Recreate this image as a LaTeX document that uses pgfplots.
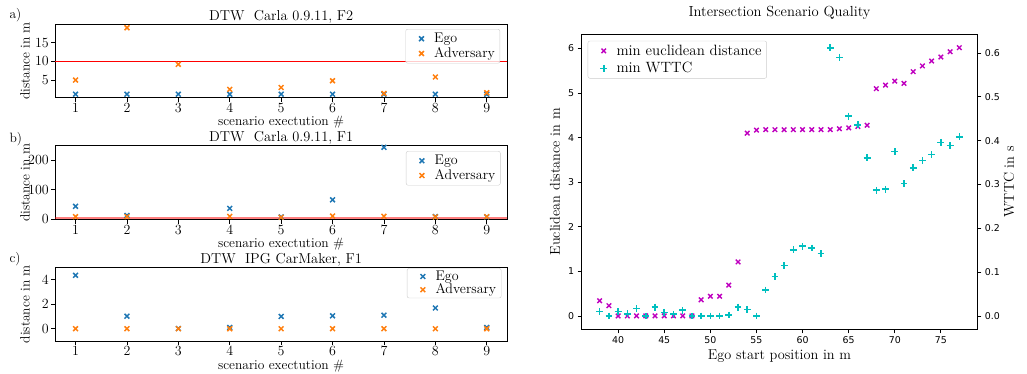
\documentclass[border=0pt]{standalone}
\usepackage{fontspec}
\usepackage{pgfplots}
\pgfplotsset{compat=1.18}
\newfontfamily\dejavu{DejaVu Sans}

\definecolor{tabblue}{HTML}{1F77B4}
\definecolor{taborange}{HTML}{FF7F0E}
\definecolor{mplm}{rgb}{0.75,0,0.75}
\definecolor{mplc}{rgb}{0,0.75,0.75}

\pgfplotsset{
  every axis title shift=0pt,
  frame/.style={
    scale only axis,
    clip mode=individual,
    axis line style={line width=0.9pt, black},
    tick align=outside, xtick pos=lower, ytick pos=left,
    major tick length=4pt,
    every tick/.style={black, line width=0.8pt},
    legend cell align=left,
    legend image code/.code={%
      \path (0pt,0pt) (22pt,0pt);
      \draw[##1] plot coordinates {(12pt,0pt)};},
  },
  mplegend/.style={
    draw=black!20, rounded corners=2pt, fill=white, fill opacity=0.8, text opacity=1,
    inner xsep=3pt, inner ysep=2pt, nodes={inner sep=2pt}, row sep=-0.5pt},
  dtw/.style={
    frame,
    width=452.3pt, height=73.4pt,
    xmin=0.6, xmax=9.4, xtick={1,...,9},
    /pgf/number format/assume math mode=true,
    tick label style={font=\fontsize{14}{16}\selectfont},
    xticklabel style={inner ysep=1pt},
    yticklabel style={inner xsep=2pt},
    xlabel={scenario exectution \#},
    ylabel={distance in m},
    label style={font=\fontsize{13.5}{16}\selectfont},
    xlabel style={at={(axis description cs:0.5,0)}, anchor=base, yshift=-28pt},
    ylabel style={at={(axis description cs:-0.0663,0.5)}, anchor=center},
    title style={font=\fontsize{14.4}{16}\selectfont, at={(axis description cs:0.5,1)}, anchor=base, yshift=4pt},
    legend style={mplegend, font=\fontsize{14}{15}\selectfont, anchor=north east},
  },
  ego/.style={only marks, mark=x, mark size=3.4pt, line width=1.5pt, color=tabblue},
  adv/.style={only marks, mark=x, mark size=3.4pt, line width=1.5pt, color=taborange},
  wttcmark/.style={only marks, mark=+, mark size=3.4pt, line width=1.6pt, color=mplc},
}

% DTW distances per scenario execution: run, ego, adversary
\pgfplotstableread{
run ego adv
1 1.2 5.0
2 1.2 19.0
3 1.2 9.2
4 1.2 2.5
5 1.2 3.0
6 1.2 4.8
7 1.2 1.4
8 1.2 5.8
9 1.2 1.6
}\carlaFtwo
\pgfplotstableread{
run ego adv
1 44 9
2 13 9
4 37 10
5 8 7
6 66 11
7 244 10
8 9 8
9 8 9
}\carlaFone
\pgfplotstableread{
run ego adv
1 4.35 0
2 1.02 0
3 0.02 0
4 0.10 0
5 1.00 0
6 1.05 0
7 1.10 0
8 1.69 0
9 0.10 0
}\ipgFone

% Intersection scenario: ego start position, min euclidean distance, min WTTC
\pgfplotstableread{
pos dist wttc
38 0.34 0.010
39 0.23 0.000
40 0.00 0.010
41 0.00 0.005
42 0.00 0.017
43 0.00 0.000
44 0.00 0.020
45 0.00 0.008
46 0.00 0.004
47 0.00 0.013
48 0.00 0.000
49 0.36 0.000
50 0.44 0.000
51 0.44 0.000
52 0.69 0.002
53 1.21 0.020
54 4.10 0.015
55 4.17 0.000
56 4.18 0.059
57 4.18 0.090
58 4.18 0.115
59 4.18 0.151
60 4.18 0.159
61 4.18 0.155
62 4.18 0.142
63 4.18 0.612
64 4.20 0.590
65 4.22 0.456
66 4.25 0.436
67 4.28 0.361
68 5.10 0.287
69 5.18 0.289
70 5.27 0.375
71 5.22 0.302
72 5.48 0.338
73 5.61 0.355
74 5.72 0.368
75 5.81 0.396
76 5.93 0.389
77 6.02 0.409
}\intersection

\begin{document}
\begin{tikzpicture}
% ---------- a) ----------
\begin{axis}[dtw, at={(55pt,-24.3pt)}, anchor=north west,
  ymin=0.26, ymax=19.92, ytick={5,10,15},
  title={DTW\ \ Carla 0.9.11, F2},
  legend style={at={(axis description cs:0.984,0.936)}}]
  \addplot[red, line width=0.9pt, forget plot] coordinates {(0.6,10) (9.4,10)};
  \addplot[ego] table[x=run, y=ego] {\carlaFtwo};
  \addlegendentry{Ego}
  \addplot[adv] table[x=run, y=adv] {\carlaFtwo};
  \addlegendentry{Adversary}
\end{axis}
% ---------- b) ----------
\begin{axis}[dtw, at={(55pt,-145.7pt)}, anchor=north west, height=74pt,
  ymin=-1.4, ymax=249.5, ytick={0,100,200},
  title={DTW\ \ Carla 0.9.11, F1},
  legend style={at={(axis description cs:0.985,0.928)}}]
  \addplot[draw=none, fill=red, fill opacity=0.5, forget plot] coordinates {(0.6,9) (9.4,9)} \closedcycle;
  \addplot[ego] table[x=run, y=ego] {\carlaFone};
  \addlegendentry{Ego}
  \addplot[adv] table[x=run, y=adv] {\carlaFone};
  \addlegendentry{Adversary}
\end{axis}
% ---------- c) ----------
\begin{axis}[dtw, at={(55pt,-267.3pt)}, anchor=north west, height=73.7pt,
  ymin=-1, ymax=5, ytick={0,2,4},
  title={DTW\ \ IPG CarMaker, F1},
  legend style={at={(axis description cs:0.987,0.987)}, inner ysep=0.5pt, row sep=-2pt}]
  \addplot[ego] table[x=run, y=ego] {\ipgFone};
  \addlegendentry{Ego}
  \addplot[adv] table[x=run, y=adv] {\ipgFone};
  \addlegendentry{Adversary}
\end{axis}
\node[anchor=base west, font=\fontsize{13.5}{16}\selectfont] at (6pt,-18pt) {a)};
\node[anchor=base west, font=\fontsize{13.5}{16}\selectfont] at (6pt,-142.3pt) {b)};
\node[anchor=base west, font=\fontsize{13.5}{16}\selectfont] at (6pt,-262.3pt) {c)};

% ---------- intersection scenario ----------
\begin{axis}[frame, at={(581.7pt,-34.3pt)}, anchor=north west,
  width=395.6pt, height=295pt,
  xmin=36.05, xmax=78.95, ymin=-0.301, ymax=6.32,
  xtick={40,45,...,75}, ytick={0,1,...,6},
  /pgf/number format/assume math mode=true,
  tick label style={font=\dejavu\fontsize{9.4}{11}\selectfont},
  title={Intersection Scenario Quality},
  title style={font=\fontsize{14.6}{16}\selectfont, at={(axis description cs:0.5,1)}, anchor=base, yshift=17.6pt},
  xlabel={Ego start position in m},
  ylabel={Euclidean distance in m},
  label style={font=\fontsize{14.3}{16}\selectfont},
  xlabel style={at={(axis description cs:0.5,0)}, anchor=base, yshift=-30pt},
  ylabel style={at={(axis description cs:-0.0675,0.5)}, anchor=center},
  legend style={mplegend, font=\fontsize{14.9}{16}\selectfont,
    at={(axis description cs:0.0152,0.978)}, anchor=north west, row sep=1.5pt}]
  \addplot[only marks, mark=x, mark size=3.2pt, line width=1.4pt, color=mplm] table[x=pos, y=dist] {\intersection};
  \addlegendentry{min euclidean distance}
  \addlegendimage{wttcmark}
  \addlegendentry{min WTTC}
\end{axis}
\begin{axis}[frame, at={(581.7pt,-34.3pt)}, anchor=north west,
  width=395.6pt, height=295pt,
  xmin=36.05, xmax=78.95, ymin=-0.0306, ymax=0.6427,
  axis x line=none, axis y line*=right, ytick pos=right,
  ytick={0,0.1,0.2,0.3,0.4,0.5,0.6},
  yticklabel style={/pgf/number format/.cd, fixed, fixed zerofill, precision=1},
  /pgf/number format/assume math mode=true,
  tick label style={font=\dejavu\fontsize{9.4}{11}\selectfont},
  ylabel={WTTC in s},
  label style={font=\fontsize{14.3}{16}\selectfont},
  ylabel style={at={(axis description cs:1.080,0.5)}, anchor=center}]
  \addplot[wttcmark] table[x=pos, y=wttc] {\intersection};
\end{axis}

\pgfresetboundingbox
\path[use as bounding box] (0,0) rectangle (1027pt,-373pt);
\end{tikzpicture}
\end{document}
